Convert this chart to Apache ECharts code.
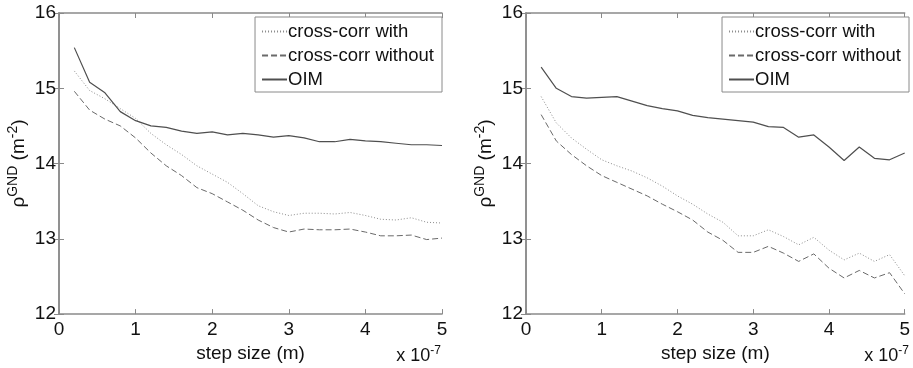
<!DOCTYPE html>
<html>
<head>
<meta charset="utf-8">
<script src="https://cdn.jsdelivr.net/npm/echarts@6/dist/echarts.min.js"></script>
<style>
  html, body { margin: 0; padding: 0; background: #fff; }
  #chart { width: 913px; height: 368px; }
</style>
</head>
<body>
<div id="chart"></div>
<script>
// step size, in units of 1e-7 m
var steps = [0.2, 0.4, 0.6, 0.8, 1.0, 1.2, 1.4, 1.6, 1.8, 2.0, 2.2, 2.4, 2.6, 2.8, 3.0, 3.2, 3.4, 3.6, 3.8, 4.0, 4.2, 4.4, 4.6, 4.8, 5.0];
var seriesNames = ['cross-corr with', 'cross-corr without', 'OIM'];
var xTicks = [0, 1, 2, 3, 4, 5];
var yTicks = [12, 13, 14, 15, 16];

// left panel
var leftWith = [15.23, 14.97, 14.86, 14.73, 14.60, 14.40, 14.25, 14.12, 13.97, 13.86, 13.75, 13.60, 13.44, 13.36, 13.31, 13.34, 13.34, 13.33, 13.35, 13.31, 13.26, 13.25, 13.28, 13.22, 13.21];
var leftWithout = [14.96, 14.71, 14.59, 14.50, 14.34, 14.14, 13.97, 13.84, 13.68, 13.60, 13.49, 13.38, 13.25, 13.15, 13.09, 13.13, 13.12, 13.12, 13.13, 13.09, 13.04, 13.04, 13.05, 12.99, 13.01];
var leftOIM = [15.54, 15.08, 14.94, 14.69, 14.57, 14.50, 14.48, 14.43, 14.40, 14.42, 14.38, 14.40, 14.38, 14.35, 14.37, 14.34, 14.29, 14.29, 14.32, 14.30, 14.29, 14.27, 14.25, 14.25, 14.24];

// right panel
var rightWith = [14.89, 14.54, 14.34, 14.19, 14.05, 13.97, 13.90, 13.81, 13.70, 13.57, 13.46, 13.33, 13.22, 13.04, 13.04, 13.12, 13.03, 12.92, 13.02, 12.85, 12.72, 12.81, 12.70, 12.79, 12.51];
var rightWithout = [14.65, 14.30, 14.12, 13.97, 13.84, 13.75, 13.66, 13.57, 13.46, 13.36, 13.25, 13.09, 12.98, 12.82, 12.82, 12.90, 12.81, 12.70, 12.80, 12.61, 12.48, 12.58, 12.48, 12.55, 12.27];
var rightOIM = [15.28, 15.00, 14.89, 14.87, 14.88, 14.89, 14.83, 14.77, 14.73, 14.70, 14.64, 14.61, 14.59, 14.57, 14.55, 14.49, 14.48, 14.35, 14.38, 14.22, 14.04, 14.22, 14.07, 14.05, 14.14];

var FONT = 'Liberation Sans, Arial, sans-serif';
var AXIS_GREY = '#8a8a8a';

function pairs(ys) {
  return steps.map(function (x, i) { return [x, ys[i]]; });
}

// x axis for a panel: bottom one with labels, top one only for ticks
function xAxisPair(grid) {
  var base = {
    gridIndex: grid, type: 'value',
    min: xTicks[0], max: xTicks[xTicks.length - 1], interval: 1,
    axisLine: { show: true, lineStyle: { color: AXIS_GREY, width: 1.5 } },
    axisTick: { show: true, inside: true, length: 5, lineStyle: { color: AXIS_GREY } },
    splitLine: { show: false }
  };
  return [
    Object.assign({}, base, {
      position: 'bottom',
      axisLabel: { color: '#111', fontSize: 19, fontFamily: FONT, margin: 6 },
      name: 'step size (m)', nameLocation: 'middle', nameGap: 27,
      nameTextStyle: { color: '#111', fontSize: 19, fontFamily: FONT }
    }),
    Object.assign({}, base, { position: 'top', axisLabel: { show: false } })
  ];
}

function yAxisPair(grid) {
  var base = {
    gridIndex: grid, type: 'value',
    min: yTicks[0], max: yTicks[yTicks.length - 1], interval: 1,
    axisLine: { show: true, lineStyle: { color: AXIS_GREY, width: 1.5 } },
    axisTick: { show: true, inside: true, length: 5, lineStyle: { color: AXIS_GREY } },
    splitLine: { show: false }
  };
  return [
    Object.assign({}, base, {
      position: 'left',
      axisLabel: { color: '#111', fontSize: 19, fontFamily: FONT, margin: 3 },
      name: '{r|ρ}{s|GND}{t| (m}{s|-2}{t|)}',
      nameLocation: 'middle', nameRotate: 90, nameGap: 27,
      nameTextStyle: {
        color: '#111', fontFamily: FONT,
        rich: {
          r: { fontSize: 19, fontFamily: FONT, color: '#111' },
          t: { fontSize: 19, fontFamily: FONT, color: '#111' },
          s: { fontSize: 14, fontFamily: FONT, color: '#111', padding: [0, 0, 12, 0] }
        }
      }
    }),
    Object.assign({}, base, { position: 'right', axisLabel: { show: false } })
  ];
}

var lineStyles = [
  { color: '#8c8c8c', width: 1, type: [1, 2] },
  { color: '#6a6a6a', width: 1, type: [6, 3] },
  { color: '#4f4f4f', width: 1.2, type: 'solid' }
];

function panelSeries(grid, data) {
  return data.map(function (ys, i) {
    return {
      name: seriesNames[i], type: 'line',
      xAxisIndex: grid * 2, yAxisIndex: grid * 2,
      data: pairs(ys), symbol: 'none', smooth: false,
      lineStyle: lineStyles[i], color: lineStyles[i].color,
      silent: true
    };
  });
}

function panelLegend(right) {
  return {
    right: right, top: 17, orient: 'vertical',
    data: seriesNames,
    itemWidth: 25, itemHeight: 10, itemGap: 5,
    padding: [5, 8, 3, 6],
    itemStyle: { opacity: 0 },
    borderColor: AXIS_GREY, borderWidth: 1, backgroundColor: '#fff',
    textStyle: { color: '#111', fontSize: 18.5, fontFamily: FONT, padding: [0, 0, 0, -4] },
    selectedMode: false
  };
}

var chart = echarts.init(document.getElementById('chart'), null, { renderer: 'canvas' });

var expText = {
  text: '{a|x 10}{b|-7}', fill: '#111',
  rich: { a: { fontSize: 18, fontFamily: FONT }, b: { fontSize: 12, fontFamily: FONT, padding: [0, 0, 11, 0] } }
};

chart.setOption({
  animation: false,
  backgroundColor: '#fff',
  grid: [
    { left: 59, right: 471, top: 13, bottom: 50 },
    { left: 526, right: 4, top: 13, bottom: 50 }
  ],
  xAxis: xAxisPair(0).concat(xAxisPair(1)),
  yAxis: yAxisPair(0).concat(yAxisPair(1)),
  legend: [panelLegend(471), panelLegend(4)],
  series: panelSeries(0, [leftWith, leftWithout, leftOIM])
    .concat(panelSeries(1, [rightWith, rightWithout, rightOIM])),
  graphic: [
    { type: 'text', right: 913 - 441, top: 345, style: expText },
    { type: 'text', right: 4, top: 345, style: expText }
  ]
});

window.addEventListener('resize', function () { chart.resize(); });
</script>
</body>
</html>
